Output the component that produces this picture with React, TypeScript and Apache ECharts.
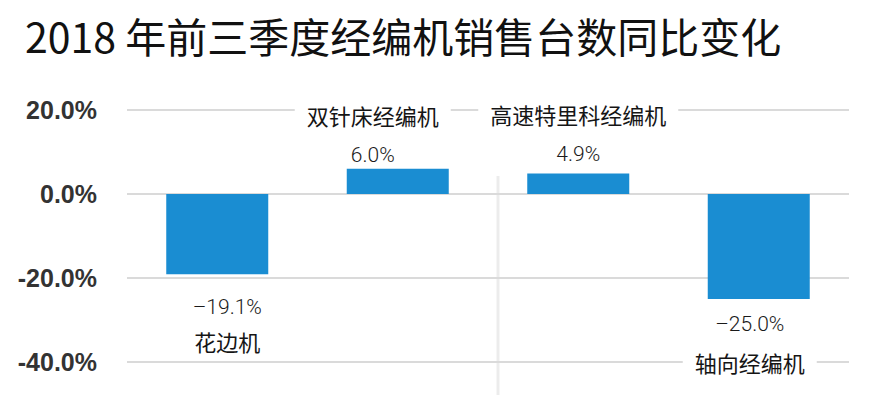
import React, { useEffect, useRef } from 'react';
import * as echarts from 'echarts';

const titleText = '2018 年前三季度经编机销售台数同比变化';
const categories = ['花边机', '双针床经编机', '高速特里科经编机', '轴向经编机'];
const values = [-19.1, 6.0, 4.9, -25.0];
const yMin = -40;
const yMax = 20;
const yStep = 20;

// label placement styles for each bar (presentation only)
const labelStyles = [
  { dx: 10, dist: 21, vLH: 24, nLH: 44, bg: false },
  { dx: -25, dist: 2, vLH: 24, nLH: 56, bg: true },
  { dx: 0, dist: 7, vLH: 24, nLH: 56, bg: true },
  { dx: -9, dist: 13, vLH: 24, nLH: 52, bg: true },
];

const fmtValue = (v: number) => (v < 0 ? '–' : '') + Math.abs(v).toFixed(1) + '%';

export default function App() {
  const ref = useRef<HTMLDivElement>(null);
  useEffect(() => {
    if (!ref.current) return;
    const chart = echarts.init(ref.current, undefined, { renderer: 'svg' });
    const data = values.map((v, i) => {
      const s = labelStyles[i];
      const pos = v >= 0 ? 'top' : 'bottom';
      const formatter =
        v >= 0
          ? `{n|${categories[i]}}\n{v|${fmtValue(v)}}`
          : `{v|${fmtValue(v)}}\n{n|${categories[i]}}`;
      return {
        value: v,
        label: {
          show: true,
          position: pos,
          distance: s.dist,
          offset: [s.dx, 0],
          formatter,
          rich: {
            n: {
              fontSize: 22,
              fontFamily: '"Noto Sans CJK SC", sans-serif',
              color: '#151515',
              lineHeight: s.nLH,
              backgroundColor: s.bg ? '#ffffff' : 'transparent',
              padding: [0, 12],
              align: 'center',
            },
            v: {
              fontSize: 21,
              fontWeight: 300,
              fontFamily: 'Roboto, "Liberation Sans", Arial, sans-serif',
              color: '#1a1a1a',
              lineHeight: s.vLH,
              align: 'center',
            },
          },
        },
      };
    });
    chart.setOption({
      animation: false,
      backgroundColor: '#ffffff',
      title: {
        text: titleText,
        left: 20,
        top: 9,
        textStyle: {
          fontSize: 41,
          fontWeight: 'normal',
          color: '#111111',
          fontFamily: '"Noto Sans CJK SC", sans-serif',
        },
      },
      grid: { left: 127, right: 31, top: 110, bottom: 33 },
      xAxis: {
        type: 'category',
        data: categories,
        axisLine: { show: false },
        axisTick: { show: false },
        axisLabel: { show: false },
      },
      yAxis: {
        type: 'value',
        min: yMin,
        max: yMax,
        interval: yStep,
        axisLine: { show: false },
        axisTick: { show: false },
        splitLine: { lineStyle: { color: '#dadada', width: 2 } },
        axisLabel: {
          margin: 30,
          fontSize: 25,
          fontWeight: 'bold',
          color: '#333333',
          fontFamily: '"Liberation Sans", Arial, sans-serif',
          formatter: (v: number) => v.toFixed(1) + '%',
        },
      },
      graphic: [
        {
          type: 'line',
          z: 0,
          shape: { x1: 498, y1: 176, x2: 498, y2: 395 },
          style: { stroke: '#ececec', lineWidth: 3 },
        },
      ],
      series: [
        {
          type: 'bar',
          data,
          barWidth: 102,
          itemStyle: { color: '#1a8dd2' },
          z: 3,
        },
      ],
    });
    return () => chart.dispose();
  }, []);
  return (
    <div
      ref={ref}
      style={{ position: 'fixed', left: 0, top: 0, width: 880, height: 395 }}
    />
  );
}
